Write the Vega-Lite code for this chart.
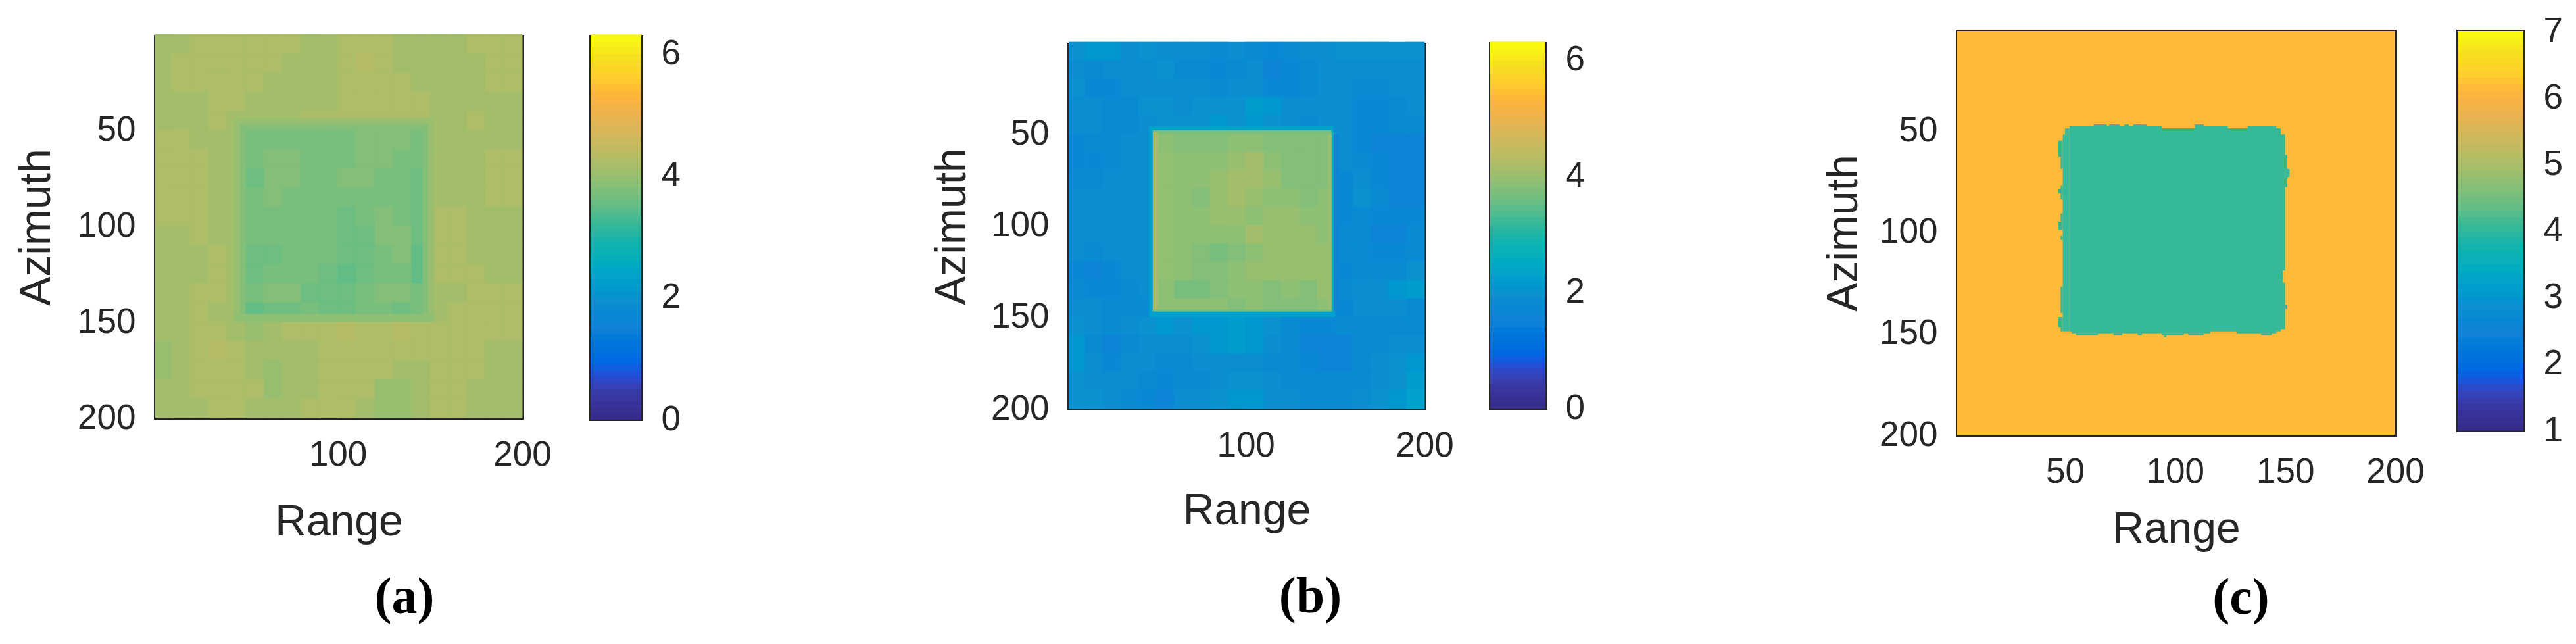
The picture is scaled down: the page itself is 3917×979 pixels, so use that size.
{
"$schema":"https://vega.github.io/schema/vega-lite/v6.json",
"autosize":{"type":"none"},
"background":"white",
"padding":{"left":236,"top":47,"right":3681,"bottom":932},
"spacing":0,
"bounds":"flush",
"resolve":{"scale":{"color":"independent"}},
"config":{
"view":{"stroke":null},
"title":{"font":"Liberation Serif","fontSize":78,"fontWeight":"bold","color":"#000000"},
"axis":{"grid":false,"zindex":1,"labelFont":"Liberation Sans","labelFontSize":53,"labelColor":"#262626","titleFont":"Liberation Sans","titleFontSize":66,"titleFontWeight":"normal","titleColor":"#262626","domainColor":"#262626","domainWidth":5,"domainCap":"square","tickColor":"#262626","tickWidth":5,"tickSize":-10,"labelOverlap":false,"labelBound":false,"labelFlush":false,"labelPadding":40}
},
"datasets":{
"bar_2pi":[{"v":0.05},{"v":0.15},{"v":0.25},{"v":0.35},{"v":0.45},{"v":0.55},{"v":0.65},{"v":0.75},{"v":0.85},{"v":0.95},{"v":1.05},{"v":1.15},{"v":1.25},{"v":1.35},{"v":1.45},{"v":1.55},{"v":1.65},{"v":1.75},{"v":1.85},{"v":1.95},{"v":2.05},{"v":2.15},{"v":2.25},{"v":2.35},{"v":2.45},{"v":2.55},{"v":2.65},{"v":2.75},{"v":2.85},{"v":2.95},{"v":3.05},{"v":3.15},{"v":3.25},{"v":3.35},{"v":3.45},{"v":3.55},{"v":3.65},{"v":3.75},{"v":3.85},{"v":3.95},{"v":4.05},{"v":4.15},{"v":4.25},{"v":4.35},{"v":4.45},{"v":4.55},{"v":4.65},{"v":4.75},{"v":4.85},{"v":4.95},{"v":5.05},{"v":5.15},{"v":5.25},{"v":5.35},{"v":5.45},{"v":5.55},{"v":5.65},{"v":5.75},{"v":5.85},{"v":5.95},{"v":6.05},{"v":6.15},{"v":6.25}],
"bar_c":[{"v":1.05},{"v":1.15},{"v":1.25},{"v":1.35},{"v":1.45},{"v":1.55},{"v":1.65},{"v":1.75},{"v":1.85},{"v":1.95},{"v":2.05},{"v":2.15},{"v":2.25},{"v":2.35},{"v":2.45},{"v":2.55},{"v":2.65},{"v":2.75},{"v":2.85},{"v":2.95},{"v":3.05},{"v":3.15},{"v":3.25},{"v":3.35},{"v":3.45},{"v":3.55},{"v":3.65},{"v":3.75},{"v":3.85},{"v":3.95},{"v":4.05},{"v":4.15},{"v":4.25},{"v":4.35},{"v":4.45},{"v":4.55},{"v":4.65},{"v":4.75},{"v":4.85},{"v":4.95},{"v":5.05},{"v":5.15},{"v":5.25},{"v":5.35},{"v":5.45},{"v":5.55},{"v":5.65},{"v":5.75},{"v":5.85},{"v":5.95},{"v":6.05},{"v":6.15},{"v":6.25},{"v":6.35},{"v":6.45},{"v":6.55},{"v":6.65},{"v":6.75},{"v":6.85},{"v":6.95}],
"cells_a":[
{"x":5,"y":5,"v":4.1},{"x":15,"y":5,"v":4.1},{"x":25,"y":5,"v":4.2},{"x":35,"y":5,"v":4.2},{"x":45,"y":5,"v":4.2},{"x":55,"y":5,"v":4.2},{"x":65,"y":5,"v":4.2},{"x":75,"y":5,"v":4.2},{"x":85,"y":5,"v":4.1},{"x":95,"y":5,"v":4.1},{"x":105,"y":5,"v":4.2},{"x":115,"y":5,"v":4.2},{"x":125,"y":5,"v":4.2},{"x":135,"y":5,"v":4.1},{"x":145,"y":5,"v":4.1},{"x":155,"y":5,"v":4.1},{"x":165,"y":5,"v":4.1},{"x":175,"y":5,"v":4.2},{"x":185,"y":5,"v":4.2},{"x":195,"y":5,"v":4.2},
{"x":5,"y":15,"v":4.1},{"x":15,"y":15,"v":4.2},{"x":25,"y":15,"v":4.2},{"x":35,"y":15,"v":4.2},{"x":45,"y":15,"v":4.2},{"x":55,"y":15,"v":4.2},{"x":65,"y":15,"v":4.2},{"x":75,"y":15,"v":4.1},{"x":85,"y":15,"v":4.1},{"x":95,"y":15,"v":4.1},{"x":105,"y":15,"v":4.2},{"x":115,"y":15,"v":4.3},{"x":125,"y":15,"v":4.2},{"x":135,"y":15,"v":4.1},{"x":145,"y":15,"v":4.1},{"x":155,"y":15,"v":4.1},{"x":165,"y":15,"v":4.1},{"x":175,"y":15,"v":4.1},{"x":185,"y":15,"v":4.2},{"x":195,"y":15,"v":4.2},
{"x":5,"y":25,"v":4.1},{"x":15,"y":25,"v":4.2},{"x":25,"y":25,"v":4.2},{"x":35,"y":25,"v":4.2},{"x":45,"y":25,"v":4.2},{"x":55,"y":25,"v":4.2},{"x":65,"y":25,"v":4.1},{"x":75,"y":25,"v":4.1},{"x":85,"y":25,"v":4.1},{"x":95,"y":25,"v":4.1},{"x":105,"y":25,"v":4.2},{"x":115,"y":25,"v":4.2},{"x":125,"y":25,"v":4.2},{"x":135,"y":25,"v":4.2},{"x":145,"y":25,"v":4.1},{"x":155,"y":25,"v":4.1},{"x":165,"y":25,"v":4.1},{"x":175,"y":25,"v":4.1},{"x":185,"y":25,"v":4.2},{"x":195,"y":25,"v":4.2},
{"x":5,"y":35,"v":4.1},{"x":15,"y":35,"v":4.1},{"x":25,"y":35,"v":4.1},{"x":35,"y":35,"v":4.2},{"x":45,"y":35,"v":4.2},{"x":55,"y":35,"v":4.1},{"x":65,"y":35,"v":4.1},{"x":75,"y":35,"v":4.1},{"x":85,"y":35,"v":4.1},{"x":95,"y":35,"v":4.1},{"x":105,"y":35,"v":4.2},{"x":115,"y":35,"v":4.2},{"x":125,"y":35,"v":4.2},{"x":135,"y":35,"v":4.2},{"x":145,"y":35,"v":4.2},{"x":155,"y":35,"v":4.1},{"x":165,"y":35,"v":4.1},{"x":175,"y":35,"v":4.1},{"x":185,"y":35,"v":4.1},{"x":195,"y":35,"v":4.1},
{"x":5,"y":45,"v":4.1},{"x":15,"y":45,"v":4.1},{"x":25,"y":45,"v":4.1},{"x":35,"y":45,"v":4.2},{"x":45,"y":45,"v":4.1},{"x":55,"y":45,"v":4.1},{"x":65,"y":45,"v":4.1},{"x":75,"y":45,"v":4.1},{"x":85,"y":45,"v":4.2},{"x":95,"y":45,"v":4.2},{"x":105,"y":45,"v":4.2},{"x":115,"y":45,"v":4.2},{"x":125,"y":45,"v":4.2},{"x":135,"y":45,"v":4.2},{"x":145,"y":45,"v":4.2},{"x":155,"y":45,"v":4.1},{"x":165,"y":45,"v":4.1},{"x":175,"y":45,"v":4.2},{"x":185,"y":45,"v":4.1},{"x":195,"y":45,"v":4.1},
{"x":5,"y":55,"v":4.2},{"x":15,"y":55,"v":4.2},{"x":25,"y":55,"v":4.1},{"x":35,"y":55,"v":4.1},{"x":45,"y":55,"v":4.1},{"x":55,"y":55,"v":3.7},{"x":65,"y":55,"v":3.7},{"x":75,"y":55,"v":3.7},{"x":85,"y":55,"v":3.7},{"x":95,"y":55,"v":3.7},{"x":105,"y":55,"v":3.7},{"x":115,"y":55,"v":3.8},{"x":125,"y":55,"v":3.8},{"x":135,"y":55,"v":3.8},{"x":145,"y":55,"v":3.7},{"x":155,"y":55,"v":4.1},{"x":165,"y":55,"v":4.1},{"x":175,"y":55,"v":4.1},{"x":185,"y":55,"v":4.1},{"x":195,"y":55,"v":4.1},
{"x":5,"y":65,"v":4.2},{"x":15,"y":65,"v":4.2},{"x":25,"y":65,"v":4.2},{"x":35,"y":65,"v":4.1},{"x":45,"y":65,"v":4.1},{"x":55,"y":65,"v":3.7},{"x":65,"y":65,"v":3.8},{"x":75,"y":65,"v":3.8},{"x":85,"y":65,"v":3.7},{"x":95,"y":65,"v":3.7},{"x":105,"y":65,"v":3.7},{"x":115,"y":65,"v":3.8},{"x":125,"y":65,"v":3.8},{"x":135,"y":65,"v":3.7},{"x":145,"y":65,"v":3.7},{"x":155,"y":65,"v":4.1},{"x":165,"y":65,"v":4.1},{"x":175,"y":65,"v":4.1},{"x":185,"y":65,"v":4.2},{"x":195,"y":65,"v":4.2},
{"x":5,"y":75,"v":4.2},{"x":15,"y":75,"v":4.2},{"x":25,"y":75,"v":4.2},{"x":35,"y":75,"v":4.1},{"x":45,"y":75,"v":4.1},{"x":55,"y":75,"v":3.6},{"x":65,"y":75,"v":3.8},{"x":75,"y":75,"v":3.8},{"x":85,"y":75,"v":3.7},{"x":95,"y":75,"v":3.7},{"x":105,"y":75,"v":3.8},{"x":115,"y":75,"v":3.8},{"x":125,"y":75,"v":3.7},{"x":135,"y":75,"v":3.7},{"x":145,"y":75,"v":3.6},{"x":155,"y":75,"v":4.1},{"x":165,"y":75,"v":4.1},{"x":175,"y":75,"v":4.1},{"x":185,"y":75,"v":4.2},{"x":195,"y":75,"v":4.2},
{"x":5,"y":85,"v":4.2},{"x":15,"y":85,"v":4.2},{"x":25,"y":85,"v":4.2},{"x":35,"y":85,"v":4.1},{"x":45,"y":85,"v":4.1},{"x":55,"y":85,"v":3.7},{"x":65,"y":85,"v":3.8},{"x":75,"y":85,"v":3.7},{"x":85,"y":85,"v":3.7},{"x":95,"y":85,"v":3.7},{"x":105,"y":85,"v":3.7},{"x":115,"y":85,"v":3.7},{"x":125,"y":85,"v":3.7},{"x":135,"y":85,"v":3.7},{"x":145,"y":85,"v":3.6},{"x":155,"y":85,"v":4.1},{"x":165,"y":85,"v":4.1},{"x":175,"y":85,"v":4.1},{"x":185,"y":85,"v":4.2},{"x":195,"y":85,"v":4.2},
{"x":5,"y":95,"v":4.2},{"x":15,"y":95,"v":4.2},{"x":25,"y":95,"v":4.2},{"x":35,"y":95,"v":4.1},{"x":45,"y":95,"v":4.1},{"x":55,"y":95,"v":3.7},{"x":65,"y":95,"v":3.7},{"x":75,"y":95,"v":3.7},{"x":85,"y":95,"v":3.7},{"x":95,"y":95,"v":3.7},{"x":105,"y":95,"v":3.6},{"x":115,"y":95,"v":3.7},{"x":125,"y":95,"v":3.8},{"x":135,"y":95,"v":3.7},{"x":145,"y":95,"v":3.6},{"x":155,"y":95,"v":4.2},{"x":165,"y":95,"v":4.2},{"x":175,"y":95,"v":4.1},{"x":185,"y":95,"v":4.1},{"x":195,"y":95,"v":4.1},
{"x":5,"y":105,"v":4.1},{"x":15,"y":105,"v":4.1},{"x":25,"y":105,"v":4.2},{"x":35,"y":105,"v":4.1},{"x":45,"y":105,"v":4.1},{"x":55,"y":105,"v":3.7},{"x":65,"y":105,"v":3.7},{"x":75,"y":105,"v":3.7},{"x":85,"y":105,"v":3.7},{"x":95,"y":105,"v":3.7},{"x":105,"y":105,"v":3.6},{"x":115,"y":105,"v":3.6},{"x":125,"y":105,"v":3.8},{"x":135,"y":105,"v":3.8},{"x":145,"y":105,"v":3.6},{"x":155,"y":105,"v":4.2},{"x":165,"y":105,"v":4.2},{"x":175,"y":105,"v":4.1},{"x":185,"y":105,"v":4.1},{"x":195,"y":105,"v":4.1},
{"x":5,"y":115,"v":4.1},{"x":15,"y":115,"v":4.1},{"x":25,"y":115,"v":4.1},{"x":35,"y":115,"v":4.2},{"x":45,"y":115,"v":4.1},{"x":55,"y":115,"v":3.6},{"x":65,"y":115,"v":3.6},{"x":75,"y":115,"v":3.7},{"x":85,"y":115,"v":3.7},{"x":95,"y":115,"v":3.7},{"x":105,"y":115,"v":3.6},{"x":115,"y":115,"v":3.6},{"x":125,"y":115,"v":3.7},{"x":135,"y":115,"v":3.8},{"x":145,"y":115,"v":3.5},{"x":155,"y":115,"v":4.2},{"x":165,"y":115,"v":4.2},{"x":175,"y":115,"v":4.1},{"x":185,"y":115,"v":4.1},{"x":195,"y":115,"v":4.1},
{"x":5,"y":125,"v":4.1},{"x":15,"y":125,"v":4.1},{"x":25,"y":125,"v":4.1},{"x":35,"y":125,"v":4.2},{"x":45,"y":125,"v":4.1},{"x":55,"y":125,"v":3.6},{"x":65,"y":125,"v":3.7},{"x":75,"y":125,"v":3.7},{"x":85,"y":125,"v":3.7},{"x":95,"y":125,"v":3.6},{"x":105,"y":125,"v":3.5},{"x":115,"y":125,"v":3.6},{"x":125,"y":125,"v":3.7},{"x":135,"y":125,"v":3.7},{"x":145,"y":125,"v":3.5},{"x":155,"y":125,"v":4.2},{"x":165,"y":125,"v":4.2},{"x":175,"y":125,"v":4.2},{"x":185,"y":125,"v":4.1},{"x":195,"y":125,"v":4.1},
{"x":5,"y":135,"v":4.1},{"x":15,"y":135,"v":4.1},{"x":25,"y":135,"v":4.2},{"x":35,"y":135,"v":4.2},{"x":45,"y":135,"v":4.1},{"x":55,"y":135,"v":3.7},{"x":65,"y":135,"v":3.8},{"x":75,"y":135,"v":3.8},{"x":85,"y":135,"v":3.6},{"x":95,"y":135,"v":3.6},{"x":105,"y":135,"v":3.6},{"x":115,"y":135,"v":3.7},{"x":125,"y":135,"v":3.8},{"x":135,"y":135,"v":3.8},{"x":145,"y":135,"v":3.7},{"x":155,"y":135,"v":4.1},{"x":165,"y":135,"v":4.1},{"x":175,"y":135,"v":4.2},{"x":185,"y":135,"v":4.2},{"x":195,"y":135,"v":4.2},
{"x":5,"y":145,"v":4.1},{"x":15,"y":145,"v":4.1},{"x":25,"y":145,"v":4.2},{"x":35,"y":145,"v":4.1},{"x":45,"y":145,"v":4.1},{"x":55,"y":145,"v":3.5},{"x":65,"y":145,"v":3.6},{"x":75,"y":145,"v":3.6},{"x":85,"y":145,"v":3.7},{"x":95,"y":145,"v":3.6},{"x":105,"y":145,"v":3.6},{"x":115,"y":145,"v":3.7},{"x":125,"y":145,"v":3.7},{"x":135,"y":145,"v":3.6},{"x":145,"y":145,"v":3.7},{"x":155,"y":145,"v":4.1},{"x":165,"y":145,"v":4.2},{"x":175,"y":145,"v":4.2},{"x":185,"y":145,"v":4.2},{"x":195,"y":145,"v":4.2},
{"x":5,"y":155,"v":4.1},{"x":15,"y":155,"v":4.1},{"x":25,"y":155,"v":4.2},{"x":35,"y":155,"v":4.2},{"x":45,"y":155,"v":4.1},{"x":55,"y":155,"v":4.0},{"x":65,"y":155,"v":4.1},{"x":75,"y":155,"v":4.2},{"x":85,"y":155,"v":4.2},{"x":95,"y":155,"v":4.2},{"x":105,"y":155,"v":4.3},{"x":115,"y":155,"v":4.2},{"x":125,"y":155,"v":4.2},{"x":135,"y":155,"v":4.3},{"x":145,"y":155,"v":4.2},{"x":155,"y":155,"v":4.2},{"x":165,"y":155,"v":4.2},{"x":175,"y":155,"v":4.2},{"x":185,"y":155,"v":4.2},{"x":195,"y":155,"v":4.2},
{"x":5,"y":165,"v":4.0},{"x":15,"y":165,"v":4.1},{"x":25,"y":165,"v":4.2},{"x":35,"y":165,"v":4.3},{"x":45,"y":165,"v":4.2},{"x":55,"y":165,"v":4.1},{"x":65,"y":165,"v":4.1},{"x":75,"y":165,"v":4.1},{"x":85,"y":165,"v":4.1},{"x":95,"y":165,"v":4.2},{"x":105,"y":165,"v":4.2},{"x":115,"y":165,"v":4.2},{"x":125,"y":165,"v":4.2},{"x":135,"y":165,"v":4.2},{"x":145,"y":165,"v":4.2},{"x":155,"y":165,"v":4.2},{"x":165,"y":165,"v":4.2},{"x":175,"y":165,"v":4.2},{"x":185,"y":165,"v":4.1},{"x":195,"y":165,"v":4.1},
{"x":5,"y":175,"v":4.0},{"x":15,"y":175,"v":4.1},{"x":25,"y":175,"v":4.2},{"x":35,"y":175,"v":4.2},{"x":45,"y":175,"v":4.2},{"x":55,"y":175,"v":4.1},{"x":65,"y":175,"v":4.0},{"x":75,"y":175,"v":4.1},{"x":85,"y":175,"v":4.1},{"x":95,"y":175,"v":4.2},{"x":105,"y":175,"v":4.2},{"x":115,"y":175,"v":4.2},{"x":125,"y":175,"v":4.2},{"x":135,"y":175,"v":4.1},{"x":145,"y":175,"v":4.1},{"x":155,"y":175,"v":4.2},{"x":165,"y":175,"v":4.2},{"x":175,"y":175,"v":4.2},{"x":185,"y":175,"v":4.1},{"x":195,"y":175,"v":4.1},
{"x":5,"y":185,"v":4.1},{"x":15,"y":185,"v":4.1},{"x":25,"y":185,"v":4.2},{"x":35,"y":185,"v":4.2},{"x":45,"y":185,"v":4.2},{"x":55,"y":185,"v":4.2},{"x":65,"y":185,"v":4.0},{"x":75,"y":185,"v":4.1},{"x":85,"y":185,"v":4.1},{"x":95,"y":185,"v":4.2},{"x":105,"y":185,"v":4.2},{"x":115,"y":185,"v":4.2},{"x":125,"y":185,"v":4.0},{"x":135,"y":185,"v":4.0},{"x":145,"y":185,"v":4.1},{"x":155,"y":185,"v":4.2},{"x":165,"y":185,"v":4.2},{"x":175,"y":185,"v":4.1},{"x":185,"y":185,"v":4.1},{"x":195,"y":185,"v":4.1},
{"x":5,"y":195,"v":4.1},{"x":15,"y":195,"v":4.1},{"x":25,"y":195,"v":4.1},{"x":35,"y":195,"v":4.2},{"x":45,"y":195,"v":4.2},{"x":55,"y":195,"v":4.1},{"x":65,"y":195,"v":4.1},{"x":75,"y":195,"v":4.1},{"x":85,"y":195,"v":4.2},{"x":95,"y":195,"v":4.2},{"x":105,"y":195,"v":4.2},{"x":115,"y":195,"v":4.1},{"x":125,"y":195,"v":4.0},{"x":135,"y":195,"v":4.0},{"x":145,"y":195,"v":4.1},{"x":155,"y":195,"v":4.2},{"x":165,"y":195,"v":4.2},{"x":175,"y":195,"v":4.1},{"x":185,"y":195,"v":4.1},{"x":195,"y":195,"v":4.1}
],
"edges_a":[
{"x":44,"x2":47,"y":44,"y2":150,"v":4.0},
{"x":149,"x2":152,"y":47,"y2":147,"v":4.0},
{"x":44,"x2":152,"y":44,"y2":47,"v":4.0},
{"x":47,"x2":149,"y":47,"y2":50,"v":3.8},
{"x":47,"x2":50,"y":47,"y2":146,"v":3.8},
{"x":146,"x2":149,"y":47,"y2":146,"v":3.8},
{"x":44,"x2":152,"y":146,"y2":150,"v":3.9}
],
"cells_b":[
{"x":5,"y":5,"v":2.0},{"x":15,"y":5,"v":2.1},{"x":25,"y":5,"v":2.1},{"x":35,"y":5,"v":1.9},{"x":45,"y":5,"v":2.0},{"x":55,"y":5,"v":1.9},{"x":65,"y":5,"v":1.9},{"x":75,"y":5,"v":1.9},{"x":85,"y":5,"v":1.8},{"x":95,"y":5,"v":1.9},{"x":105,"y":5,"v":1.8},{"x":115,"y":5,"v":1.7},{"x":125,"y":5,"v":1.8},{"x":135,"y":5,"v":1.9},{"x":145,"y":5,"v":1.9},{"x":155,"y":5,"v":2.0},{"x":165,"y":5,"v":2.0},{"x":175,"y":5,"v":2.0},{"x":185,"y":5,"v":2.0},{"x":195,"y":5,"v":2.0},
{"x":5,"y":15,"v":1.9},{"x":15,"y":15,"v":1.8},{"x":25,"y":15,"v":1.9},{"x":35,"y":15,"v":1.9},{"x":45,"y":15,"v":1.9},{"x":55,"y":15,"v":2.0},{"x":65,"y":15,"v":1.8},{"x":75,"y":15,"v":1.8},{"x":85,"y":15,"v":1.7},{"x":95,"y":15,"v":1.8},{"x":105,"y":15,"v":1.9},{"x":115,"y":15,"v":1.6},{"x":125,"y":15,"v":1.7},{"x":135,"y":15,"v":1.8},{"x":145,"y":15,"v":1.9},{"x":155,"y":15,"v":1.9},{"x":165,"y":15,"v":1.9},{"x":175,"y":15,"v":1.9},{"x":185,"y":15,"v":1.9},{"x":195,"y":15,"v":1.9},
{"x":5,"y":25,"v":2.0},{"x":15,"y":25,"v":1.7},{"x":25,"y":25,"v":1.7},{"x":35,"y":25,"v":1.9},{"x":45,"y":25,"v":1.9},{"x":55,"y":25,"v":1.9},{"x":65,"y":25,"v":1.9},{"x":75,"y":25,"v":1.9},{"x":85,"y":25,"v":1.8},{"x":95,"y":25,"v":1.9},{"x":105,"y":25,"v":1.9},{"x":115,"y":25,"v":1.7},{"x":125,"y":25,"v":1.7},{"x":135,"y":25,"v":1.8},{"x":145,"y":25,"v":1.9},{"x":155,"y":25,"v":1.9},{"x":165,"y":25,"v":1.8},{"x":175,"y":25,"v":1.8},{"x":185,"y":25,"v":1.9},{"x":195,"y":25,"v":1.9},
{"x":5,"y":35,"v":1.9},{"x":15,"y":35,"v":1.9},{"x":25,"y":35,"v":1.8},{"x":35,"y":35,"v":1.8},{"x":45,"y":35,"v":2.0},{"x":55,"y":35,"v":2.0},{"x":65,"y":35,"v":1.9},{"x":75,"y":35,"v":2.0},{"x":85,"y":35,"v":2.0},{"x":95,"y":35,"v":2.0},{"x":105,"y":35,"v":2.2},{"x":115,"y":35,"v":2.1},{"x":125,"y":35,"v":1.9},{"x":135,"y":35,"v":1.9},{"x":145,"y":35,"v":1.9},{"x":155,"y":35,"v":1.9},{"x":165,"y":35,"v":1.7},{"x":175,"y":35,"v":1.7},{"x":185,"y":35,"v":1.8},{"x":195,"y":35,"v":1.9},
{"x":5,"y":45,"v":1.9},{"x":15,"y":45,"v":1.9},{"x":25,"y":45,"v":1.8},{"x":35,"y":45,"v":1.8},{"x":45,"y":45,"v":1.9},{"x":55,"y":45,"v":2.0},{"x":65,"y":45,"v":2.0},{"x":75,"y":45,"v":2.0},{"x":85,"y":45,"v":2.1},{"x":95,"y":45,"v":2.0},{"x":105,"y":45,"v":2.1},{"x":115,"y":45,"v":2.0},{"x":125,"y":45,"v":1.9},{"x":135,"y":45,"v":1.8},{"x":145,"y":45,"v":1.9},{"x":155,"y":45,"v":1.9},{"x":165,"y":45,"v":1.7},{"x":175,"y":45,"v":1.7},{"x":185,"y":45,"v":1.8},{"x":195,"y":45,"v":1.8},
{"x":5,"y":55,"v":1.7},{"x":15,"y":55,"v":1.8},{"x":25,"y":55,"v":1.8},{"x":35,"y":55,"v":1.9},{"x":45,"y":55,"v":1.9},{"x":55,"y":55,"v":3.9},{"x":65,"y":55,"v":3.8},{"x":75,"y":55,"v":3.8},{"x":85,"y":55,"v":3.8},{"x":95,"y":55,"v":3.9},{"x":105,"y":55,"v":3.9},{"x":115,"y":55,"v":3.8},{"x":125,"y":55,"v":3.8},{"x":135,"y":55,"v":3.8},{"x":145,"y":55,"v":3.8},{"x":155,"y":55,"v":1.9},{"x":165,"y":55,"v":1.7},{"x":175,"y":55,"v":1.6},{"x":185,"y":55,"v":1.6},{"x":195,"y":55,"v":1.6},
{"x":5,"y":65,"v":1.7},{"x":15,"y":65,"v":1.7},{"x":25,"y":65,"v":1.8},{"x":35,"y":65,"v":1.9},{"x":45,"y":65,"v":1.9},{"x":55,"y":65,"v":3.95},{"x":65,"y":65,"v":3.9},{"x":75,"y":65,"v":3.9},{"x":85,"y":65,"v":3.9},{"x":95,"y":65,"v":4.0},{"x":105,"y":65,"v":4.1},{"x":115,"y":65,"v":3.9},{"x":125,"y":65,"v":3.8},{"x":135,"y":65,"v":3.8},{"x":145,"y":65,"v":3.8},{"x":155,"y":65,"v":1.9},{"x":165,"y":65,"v":1.8},{"x":175,"y":65,"v":1.7},{"x":185,"y":65,"v":1.6},{"x":195,"y":65,"v":1.6},
{"x":5,"y":75,"v":1.8},{"x":15,"y":75,"v":1.8},{"x":25,"y":75,"v":1.9},{"x":35,"y":75,"v":1.9},{"x":45,"y":75,"v":1.9},{"x":55,"y":75,"v":3.95},{"x":65,"y":75,"v":3.9},{"x":75,"y":75,"v":3.9},{"x":85,"y":75,"v":4.0},{"x":95,"y":75,"v":4.1},{"x":105,"y":75,"v":4.1},{"x":115,"y":75,"v":4.0},{"x":125,"y":75,"v":3.8},{"x":135,"y":75,"v":3.8},{"x":145,"y":75,"v":3.8},{"x":155,"y":75,"v":1.7},{"x":165,"y":75,"v":1.9},{"x":175,"y":75,"v":1.7},{"x":185,"y":75,"v":1.6},{"x":195,"y":75,"v":1.6},
{"x":5,"y":85,"v":1.9},{"x":15,"y":85,"v":1.9},{"x":25,"y":85,"v":1.9},{"x":35,"y":85,"v":1.9},{"x":45,"y":85,"v":1.9},{"x":55,"y":85,"v":3.95},{"x":65,"y":85,"v":3.9},{"x":75,"y":85,"v":3.8},{"x":85,"y":85,"v":4.0},{"x":95,"y":85,"v":4.1},{"x":105,"y":85,"v":4.0},{"x":115,"y":85,"v":3.9},{"x":125,"y":85,"v":3.9},{"x":135,"y":85,"v":3.8},{"x":145,"y":85,"v":3.9},{"x":155,"y":85,"v":1.7},{"x":165,"y":85,"v":2.0},{"x":175,"y":85,"v":1.8},{"x":185,"y":85,"v":1.6},{"x":195,"y":85,"v":1.6},
{"x":5,"y":95,"v":1.9},{"x":15,"y":95,"v":1.9},{"x":25,"y":95,"v":1.9},{"x":35,"y":95,"v":1.9},{"x":45,"y":95,"v":1.9},{"x":55,"y":95,"v":3.95},{"x":65,"y":95,"v":3.9},{"x":75,"y":95,"v":3.9},{"x":85,"y":95,"v":4.0},{"x":95,"y":95,"v":4.0},{"x":105,"y":95,"v":3.9},{"x":115,"y":95,"v":4.0},{"x":125,"y":95,"v":4.0},{"x":135,"y":95,"v":3.9},{"x":145,"y":95,"v":3.9},{"x":155,"y":95,"v":1.7},{"x":165,"y":95,"v":1.8},{"x":175,"y":95,"v":1.7},{"x":185,"y":95,"v":1.7},{"x":195,"y":95,"v":1.7},
{"x":5,"y":105,"v":1.9},{"x":15,"y":105,"v":1.9},{"x":25,"y":105,"v":1.9},{"x":35,"y":105,"v":1.9},{"x":45,"y":105,"v":1.9},{"x":55,"y":105,"v":3.95},{"x":65,"y":105,"v":3.9},{"x":75,"y":105,"v":3.9},{"x":85,"y":105,"v":3.9},{"x":95,"y":105,"v":3.9},{"x":105,"y":105,"v":4.1},{"x":115,"y":105,"v":4.0},{"x":125,"y":105,"v":4.0},{"x":135,"y":105,"v":4.0},{"x":145,"y":105,"v":3.9},{"x":155,"y":105,"v":1.8},{"x":165,"y":105,"v":1.8},{"x":175,"y":105,"v":1.6},{"x":185,"y":105,"v":1.6},{"x":195,"y":105,"v":1.8},
{"x":5,"y":115,"v":1.9},{"x":15,"y":115,"v":1.8},{"x":25,"y":115,"v":1.9},{"x":35,"y":115,"v":1.9},{"x":45,"y":115,"v":1.9},{"x":55,"y":115,"v":3.95},{"x":65,"y":115,"v":3.9},{"x":75,"y":115,"v":3.8},{"x":85,"y":115,"v":3.7},{"x":95,"y":115,"v":3.8},{"x":105,"y":115,"v":3.9},{"x":115,"y":115,"v":4.0},{"x":125,"y":115,"v":4.0},{"x":135,"y":115,"v":4.0},{"x":145,"y":115,"v":4.0},{"x":155,"y":115,"v":1.8},{"x":165,"y":115,"v":1.8},{"x":175,"y":115,"v":1.7},{"x":185,"y":115,"v":1.7},{"x":195,"y":115,"v":1.8},
{"x":5,"y":125,"v":1.7},{"x":15,"y":125,"v":1.6},{"x":25,"y":125,"v":1.7},{"x":35,"y":125,"v":1.9},{"x":45,"y":125,"v":1.9},{"x":55,"y":125,"v":3.95},{"x":65,"y":125,"v":3.9},{"x":75,"y":125,"v":3.8},{"x":85,"y":125,"v":3.8},{"x":95,"y":125,"v":3.9},{"x":105,"y":125,"v":4.0},{"x":115,"y":125,"v":4.0},{"x":125,"y":125,"v":4.0},{"x":135,"y":125,"v":4.0},{"x":145,"y":125,"v":4.0},{"x":155,"y":125,"v":1.7},{"x":165,"y":125,"v":1.8},{"x":175,"y":125,"v":1.8},{"x":185,"y":125,"v":1.8},{"x":195,"y":125,"v":2.0},
{"x":5,"y":135,"v":1.8},{"x":15,"y":135,"v":1.7},{"x":25,"y":135,"v":1.7},{"x":35,"y":135,"v":1.8},{"x":45,"y":135,"v":1.9},{"x":55,"y":135,"v":3.9},{"x":65,"y":135,"v":3.7},{"x":75,"y":135,"v":3.7},{"x":85,"y":135,"v":3.8},{"x":95,"y":135,"v":3.9},{"x":105,"y":135,"v":3.9},{"x":115,"y":135,"v":3.8},{"x":125,"y":135,"v":3.9},{"x":135,"y":135,"v":3.8},{"x":145,"y":135,"v":4.0},{"x":155,"y":135,"v":1.8},{"x":165,"y":135,"v":1.9},{"x":175,"y":135,"v":1.9},{"x":185,"y":135,"v":2.1},{"x":195,"y":135,"v":2.2},
{"x":5,"y":145,"v":1.9},{"x":15,"y":145,"v":1.9},{"x":25,"y":145,"v":1.8},{"x":35,"y":145,"v":1.8},{"x":45,"y":145,"v":1.8},{"x":55,"y":145,"v":3.9},{"x":65,"y":145,"v":3.9},{"x":75,"y":145,"v":3.9},{"x":85,"y":145,"v":3.9},{"x":95,"y":145,"v":3.8},{"x":105,"y":145,"v":3.9},{"x":115,"y":145,"v":3.8},{"x":125,"y":145,"v":3.8},{"x":135,"y":145,"v":3.8},{"x":145,"y":145,"v":3.9},{"x":155,"y":145,"v":1.7},{"x":165,"y":145,"v":1.9},{"x":175,"y":145,"v":1.9},{"x":185,"y":145,"v":1.9},{"x":195,"y":145,"v":1.8},
{"x":5,"y":155,"v":2.0},{"x":15,"y":155,"v":1.9},{"x":25,"y":155,"v":1.8},{"x":35,"y":155,"v":1.9},{"x":45,"y":155,"v":2.0},{"x":55,"y":155,"v":2.1},{"x":65,"y":155,"v":2.0},{"x":75,"y":155,"v":2.1},{"x":85,"y":155,"v":2.1},{"x":95,"y":155,"v":2.2},{"x":105,"y":155,"v":2.1},{"x":115,"y":155,"v":2.0},{"x":125,"y":155,"v":1.8},{"x":135,"y":155,"v":1.7},{"x":145,"y":155,"v":1.7},{"x":155,"y":155,"v":1.8},{"x":165,"y":155,"v":1.8},{"x":175,"y":155,"v":1.8},{"x":185,"y":155,"v":1.8},{"x":195,"y":155,"v":1.8},
{"x":5,"y":165,"v":2.1},{"x":15,"y":165,"v":1.8},{"x":25,"y":165,"v":1.6},{"x":35,"y":165,"v":1.8},{"x":45,"y":165,"v":1.9},{"x":55,"y":165,"v":1.9},{"x":65,"y":165,"v":1.9},{"x":75,"y":165,"v":2.0},{"x":85,"y":165,"v":2.1},{"x":95,"y":165,"v":2.2},{"x":105,"y":165,"v":2.1},{"x":115,"y":165,"v":1.9},{"x":125,"y":165,"v":1.8},{"x":135,"y":165,"v":1.6},{"x":145,"y":165,"v":1.6},{"x":155,"y":165,"v":1.6},{"x":165,"y":165,"v":1.8},{"x":175,"y":165,"v":1.8},{"x":185,"y":165,"v":1.9},{"x":195,"y":165,"v":1.9},
{"x":5,"y":175,"v":2.1},{"x":15,"y":175,"v":1.9},{"x":25,"y":175,"v":1.7},{"x":35,"y":175,"v":1.9},{"x":45,"y":175,"v":1.9},{"x":55,"y":175,"v":1.8},{"x":65,"y":175,"v":1.8},{"x":75,"y":175,"v":1.9},{"x":85,"y":175,"v":1.9},{"x":95,"y":175,"v":1.9},{"x":105,"y":175,"v":1.9},{"x":115,"y":175,"v":1.8},{"x":125,"y":175,"v":1.8},{"x":135,"y":175,"v":1.7},{"x":145,"y":175,"v":1.6},{"x":155,"y":175,"v":1.6},{"x":165,"y":175,"v":1.8},{"x":175,"y":175,"v":1.9},{"x":185,"y":175,"v":2.0},{"x":195,"y":175,"v":2.1},
{"x":5,"y":185,"v":2.0},{"x":15,"y":185,"v":1.9},{"x":25,"y":185,"v":1.9},{"x":35,"y":185,"v":1.9},{"x":45,"y":185,"v":1.8},{"x":55,"y":185,"v":1.7},{"x":65,"y":185,"v":1.8},{"x":75,"y":185,"v":1.8},{"x":85,"y":185,"v":1.9},{"x":95,"y":185,"v":2.0},{"x":105,"y":185,"v":2.0},{"x":115,"y":185,"v":1.9},{"x":125,"y":185,"v":1.8},{"x":135,"y":185,"v":1.8},{"x":145,"y":185,"v":1.8},{"x":155,"y":185,"v":1.8},{"x":165,"y":185,"v":1.8},{"x":175,"y":185,"v":1.9},{"x":185,"y":185,"v":2.0},{"x":195,"y":185,"v":2.2},
{"x":5,"y":195,"v":2.0},{"x":15,"y":195,"v":2.0},{"x":25,"y":195,"v":1.9},{"x":35,"y":195,"v":1.8},{"x":45,"y":195,"v":1.7},{"x":55,"y":195,"v":1.6},{"x":65,"y":195,"v":1.9},{"x":75,"y":195,"v":1.9},{"x":85,"y":195,"v":2.0},{"x":95,"y":195,"v":2.1},{"x":105,"y":195,"v":2.1},{"x":115,"y":195,"v":1.9},{"x":125,"y":195,"v":1.9},{"x":135,"y":195,"v":1.8},{"x":145,"y":195,"v":1.8},{"x":155,"y":195,"v":1.8},{"x":165,"y":195,"v":1.9},{"x":175,"y":195,"v":2.0},{"x":185,"y":195,"v":2.1},{"x":195,"y":195,"v":2.3}
],
"edges_b":[
{"x":46,"x2":48,"y":46,"y2":150,"v":2.3},
{"x":148,"x2":149,"y":47,"y2":147,"v":2.8},
{"x":149,"x2":152,"y":50,"y2":147,"v":1.6},
{"x":46,"x2":149,"y":46,"y2":48,"v":2.4},
{"x":48,"x2":148,"y":48,"y2":50,"v":3.7},
{"x":48,"x2":51,"y":49,"y2":147,"v":4.15},
{"x":146,"x2":148,"y":50,"y2":146,"v":4.0},
{"x":46,"x2":150,"y":147,"y2":150,"v":2.3},
{"x":48,"x2":148,"y":146,"y2":147,"v":3.6}
],
"regions_c":[
{"x":1,"x2":200,"y":1,"y2":200,"v":6.15},
{"x":52,"x2":148,"y":49,"y2":150,"v":4.05},
{"x":49,"x2":52,"y":52,"y2":150,"v":4.05},
{"x":50,"x2":52,"y":49,"y2":52,"v":4.05},
{"x":148,"x2":150,"y":52,"y2":148,"v":4.05},
{"x":146,"x2":148,"y":49,"y2":52,"v":4.05},
{"x":52,"x2":94,"y":48,"y2":49,"v":4.05},
{"x":63,"x2":69,"y":47,"y2":48,"v":4.05},
{"x":70,"x2":75,"y":47,"y2":48,"v":4.05},
{"x":77,"x2":79,"y":47,"y2":48,"v":4.05},
{"x":81,"x2":87,"y":47,"y2":48,"v":4.05},
{"x":109,"x2":113,"y":47,"y2":49,"v":4.05},
{"x":113,"x2":124,"y":48,"y2":49,"v":4.05},
{"x":133,"x2":146,"y":48,"y2":49,"v":4.05},
{"x":47,"x2":49,"y":55,"y2":63,"v":4.05},
{"x":48,"x2":49,"y":63,"y2":69,"v":4.05},
{"x":47,"x2":49,"y":79,"y2":81,"v":4.05},
{"x":48,"x2":49,"y":77,"y2":84,"v":4.05},
{"x":48,"x2":49,"y":91,"y2":95,"v":4.05},
{"x":47,"x2":49,"y":95,"y2":99,"v":4.05},
{"x":48,"x2":49,"y":102,"y2":104,"v":4.05},
{"x":48,"x2":49,"y":127,"y2":140,"v":4.05},
{"x":47,"x2":49,"y":142,"y2":147,"v":4.05},
{"x":48,"x2":49,"y":147,"y2":149,"v":4.05},
{"x":150,"x2":151,"y":62,"y2":78,"v":4.05},
{"x":151,"x2":152,"y":69,"y2":73,"v":4.05},
{"x":150,"x2":151,"y":136,"y2":138,"v":4.05},
{"x":149,"x2":150,"y":119,"y2":125,"v":6.15},
{"x":55,"x2":65,"y":150,"y2":151,"v":4.05},
{"x":72,"x2":76,"y":150,"y2":151,"v":4.05},
{"x":83,"x2":85,"y":150,"y2":151,"v":4.05},
{"x":94,"x2":104,"y":150,"y2":151,"v":4.05},
{"x":95,"x2":96,"y":151,"y2":152,"v":4.05},
{"x":106,"x2":113,"y":150,"y2":151,"v":4.05},
{"x":139,"x2":144,"y":150,"y2":151,"v":4.05},
{"x":116,"x2":128,"y":149,"y2":150,"v":6.15},
{"x":49,"x2":53,"y":149,"y2":150,"v":6.15},
{"x":146,"x2":148,"y":149,"y2":150,"v":6.15}
]
},
"hconcat":[
{"width":662,"height":620,"title":{"text":"(a)","orient":"bottom","anchor":"middle","frame":"group","dx":48,"offset":44},
"resolve":{"axis":{"x":"independent","y":"independent"}},
"layer":[
{"data":{"name":"cells_a"},"mark":{"type":"rect","width":29,"height":30,"clip":true},
"encoding":{
"x":{"field":"x","type":"quantitative","scale":{"domain":[1,200],"range":[0,558],"nice":false,"zero":false},"axis":{"orient":"bottom","values":[100,200],"title":"Range","titlePadding":43,"offset":-32}},
"y":{"field":"y","type":"quantitative","scale":{"domain":[1,200],"range":[8,588],"nice":false,"zero":false},"axis":{"orient":"left","values":[50,100,150,200],"title":"Azimuth","titlePadding":28}},
"color":{"field":"v","type":"quantitative","legend":null,"scale":{"domain":[0,0.44,0.74,0.91,1.5,1.98,2.37,2.67,3.02,3.27,3.52,3.87,4.2,4.6,5.0,5.33,5.63,5.93,6.2832],"range":["#352A87","#3A3AA8","#2050D8","#0566E2","#1481D6","#1090D0","#06A4CA","#0CB0BA","#20B5A5","#3FBA94","#64BD84","#8ABF76","#ADBD68","#CDB85E","#EDB24E","#FFB53B","#FFCF2D","#F6E01F","#F9FB0F"]}}
}},
{"data":{"name":"edges_a"},"mark":{"type":"rect","clip":true},
"encoding":{
"x":{"field":"x","type":"quantitative","axis":{"orient":"top","values":[100,200],"labels":false,"title":null,"offset":-8}},
"x2":{"field":"x2"},
"y":{"field":"y","type":"quantitative","axis":{"orient":"right","values":[50,100,150,200],"labels":false,"title":null,"offset":-104}},
"y2":{"field":"y2"},
"color":{"field":"v","type":"quantitative","legend":null}
}}
]},
{"width":727,"height":620,
"resolve":{"axis":{"x":"independent","y":"independent"}},
"layer":[
{"data":{"name":"bar_2pi"},"mark":{"type":"rect","height":11,"clip":true},
"encoding":{
"x":{"datum":0,"type":"quantitative","scale":{"domain":[0,1],"range":[0,77]},"axis":{"orient":"bottom","ticks":false,"labels":false,"title":null,"offset":-30}},
"x2":{"datum":1},
"y":{"field":"v","type":"quantitative","scale":{"domain":[0,6.2832],"range":[590,8],"nice":false,"zero":false},"axis":{"orient":"left","ticks":false,"labels":false,"title":null}},
"color":{"field":"v","type":"quantitative","legend":null,"scale":{"domain":[0,0.44,0.74,0.91,1.5,1.98,2.37,2.67,3.02,3.27,3.52,3.87,4.2,4.6,5.0,5.33,5.63,5.93,6.2832],"range":["#352A87","#3A3AA8","#2050D8","#0566E2","#1481D6","#1090D0","#06A4CA","#0CB0BA","#20B5A5","#3FBA94","#64BD84","#8ABF76","#ADBD68","#CDB85E","#EDB24E","#FFB53B","#FFCF2D","#F6E01F","#F9FB0F"]}}
}},
{"data":{"name":"bar_2pi"},"mark":{"type":"rect","height":11,"clip":true},
"encoding":{
"x":{"datum":0,"type":"quantitative","axis":{"orient":"top","ticks":false,"labels":false,"title":null,"offset":-8}},
"x2":{"datum":1},
"y":{"field":"v","type":"quantitative","axis":{"orient":"right","values":[0,2,4,6],"title":null,"offset":-650}},
"color":{"field":"v","type":"quantitative","legend":null}
}}
]},
{"width":641,"height":620,"title":{"text":"(b)","orient":"bottom","anchor":"middle","frame":"group","dx":47,"offset":60},
"resolve":{"axis":{"x":"independent","y":"independent"}},
"layer":[
{"data":{"name":"cells_b"},"mark":{"type":"rect","width":28,"height":29,"clip":true},
"encoding":{
"x":{"field":"x","type":"quantitative","scale":{"domain":[1,200],"range":[0,541],"nice":false,"zero":false},"axis":{"orient":"bottom","values":[100,200],"title":"Range","titlePadding":40,"offset":-46}},
"y":{"field":"y","type":"quantitative","scale":{"domain":[1,200],"range":[20,574],"nice":false,"zero":false},"axis":{"orient":"left","values":[50,100,150,200],"title":"Azimuth","titlePadding":25}},
"color":{"field":"v","type":"quantitative","legend":null,"scale":{"domain":[0,0.44,0.74,0.91,1.5,1.98,2.37,2.67,3.02,3.27,3.52,3.87,4.2,4.6,5.0,5.33,5.63,5.93,6.2832],"range":["#352A87","#3A3AA8","#2050D8","#0566E2","#1481D6","#1090D0","#06A4CA","#0CB0BA","#20B5A5","#3FBA94","#64BD84","#8ABF76","#ADBD68","#CDB85E","#EDB24E","#FFB53B","#FFCF2D","#F6E01F","#F9FB0F"]}}
}},
{"data":{"name":"edges_b"},"mark":{"type":"rect","clip":true},
"encoding":{
"x":{"field":"x","type":"quantitative","axis":{"orient":"top","values":[100,200],"labels":false,"title":null,"offset":-20}},
"x2":{"field":"x2"},
"y":{"field":"y","type":"quantitative","axis":{"orient":"right","values":[50,100,150,200],"labels":false,"title":null,"offset":-100}},
"y2":{"field":"y2"},
"color":{"field":"v","type":"quantitative","legend":null}
}}
]},
{"width":710,"height":620,
"resolve":{"axis":{"x":"independent","y":"independent"}},
"layer":[
{"data":{"name":"bar_2pi"},"mark":{"type":"rect","height":11,"clip":true},
"encoding":{
"x":{"datum":0,"type":"quantitative","scale":{"domain":[0,1],"range":[0,84]},"axis":{"orient":"bottom","ticks":false,"labels":false,"title":null,"offset":-47}},
"x2":{"datum":1},
"y":{"field":"v","type":"quantitative","scale":{"domain":[0,6.2832],"range":[573,19],"nice":false,"zero":false},"axis":{"orient":"left","ticks":false,"labels":false,"title":null}},
"color":{"field":"v","type":"quantitative","legend":null,"scale":{"domain":[0,0.44,0.74,0.91,1.5,1.98,2.37,2.67,3.02,3.27,3.52,3.87,4.2,4.6,5.0,5.33,5.63,5.93,6.2832],"range":["#352A87","#3A3AA8","#2050D8","#0566E2","#1481D6","#1090D0","#06A4CA","#0CB0BA","#20B5A5","#3FBA94","#64BD84","#8ABF76","#ADBD68","#CDB85E","#EDB24E","#FFB53B","#FFCF2D","#F6E01F","#F9FB0F"]}}
}},
{"data":{"name":"bar_2pi"},"mark":{"type":"rect","height":11,"clip":true},
"encoding":{
"x":{"datum":0,"type":"quantitative","axis":{"orient":"top","ticks":false,"labels":false,"title":null,"offset":-19}},
"x2":{"datum":1},
"y":{"field":"v","type":"quantitative","axis":{"orient":"right","values":[0,2,4,6],"title":null,"offset":-626}},
"color":{"field":"v","type":"quantitative","legend":null}
}}
]},
{"width":761,"height":620,"title":{"text":"(c)","orient":"bottom","anchor":"middle","frame":"group","dx":51,"offset":34},
"resolve":{"axis":{"x":"independent","y":"independent"}},
"layer":[
{"data":{"name":"regions_c"},"mark":{"type":"rect","clip":true},
"encoding":{
"x":{"field":"x","type":"quantitative","scale":{"domain":[1,200],"range":[0,666],"nice":false,"zero":false},"axis":{"orient":"bottom","values":[50,100,150,200],"title":"Range","titlePadding":28,"offset":-6}},
"x2":{"field":"x2"},
"y":{"field":"y","type":"quantitative","scale":{"domain":[1,200],"range":[0,614],"nice":false,"zero":false},"axis":{"orient":"left","values":[50,100,150,200],"title":"Azimuth","titlePadding":20}},
"y2":{"field":"y2"},
"color":{"field":"v","type":"quantitative","legend":null,"scale":{"domain":[1,1.42,1.71,1.87,2.44,2.89,3.26,3.55,3.88,4.12,4.36,4.69,5.02,5.38,5.77,6.1,6.37,6.67,7],"range":["#352A87","#3A3AA8","#2050D8","#0566E2","#1481D6","#1090D0","#06A4CA","#0CB0BA","#20B5A5","#3FBA94","#64BD84","#8ABF76","#ADBD68","#CDB85E","#EDB24E","#FFB53B","#FFCF2D","#F6E01F","#F9FB0F"]}}
}},
{"data":{"name":"regions_c"},"mark":{"type":"rect","clip":true},
"encoding":{
"x":{"field":"x","type":"quantitative","axis":{"orient":"top","values":[50,100,150,200],"labels":false,"title":null}},
"x2":{"field":"x2"},
"y":{"field":"y","type":"quantitative","axis":{"orient":"right","values":[50,100,150,200],"labels":false,"title":null,"offset":-95}},
"y2":{"field":"y2"},
"color":{"field":"v","type":"quantitative","legend":null}
}}
]},
{"width":100,"height":620,
"resolve":{"axis":{"x":"independent","y":"independent"}},
"layer":[
{"data":{"name":"bar_c"},"mark":{"type":"rect","height":11,"clip":true},
"encoding":{
"x":{"datum":0,"type":"quantitative","scale":{"domain":[0,1],"range":[0,100]},"axis":{"orient":"bottom","ticks":false,"labels":false,"title":null,"offset":-13}},
"x2":{"datum":1},
"y":{"field":"v","type":"quantitative","scale":{"domain":[1,7],"range":[607,0],"nice":false,"zero":false},"axis":{"orient":"left","ticks":false,"labels":false,"title":null}},
"color":{"field":"v","type":"quantitative","legend":null,"scale":{"domain":[1,1.42,1.71,1.87,2.44,2.89,3.26,3.55,3.88,4.12,4.36,4.69,5.02,5.38,5.77,6.1,6.37,6.67,7],"range":["#352A87","#3A3AA8","#2050D8","#0566E2","#1481D6","#1090D0","#06A4CA","#0CB0BA","#20B5A5","#3FBA94","#64BD84","#8ABF76","#ADBD68","#CDB85E","#EDB24E","#FFB53B","#FFCF2D","#F6E01F","#F9FB0F"]}}
}},
{"data":{"name":"bar_c"},"mark":{"type":"rect","height":11,"clip":true},
"encoding":{
"x":{"datum":0,"type":"quantitative","axis":{"orient":"top","ticks":false,"labels":false,"title":null}},
"x2":{"datum":1},
"y":{"field":"v","type":"quantitative","axis":{"orient":"right","values":[1,2,3,4,5,6,7],"title":null}},
"color":{"field":"v","type":"quantitative","legend":null}
}}
]}
]
}
